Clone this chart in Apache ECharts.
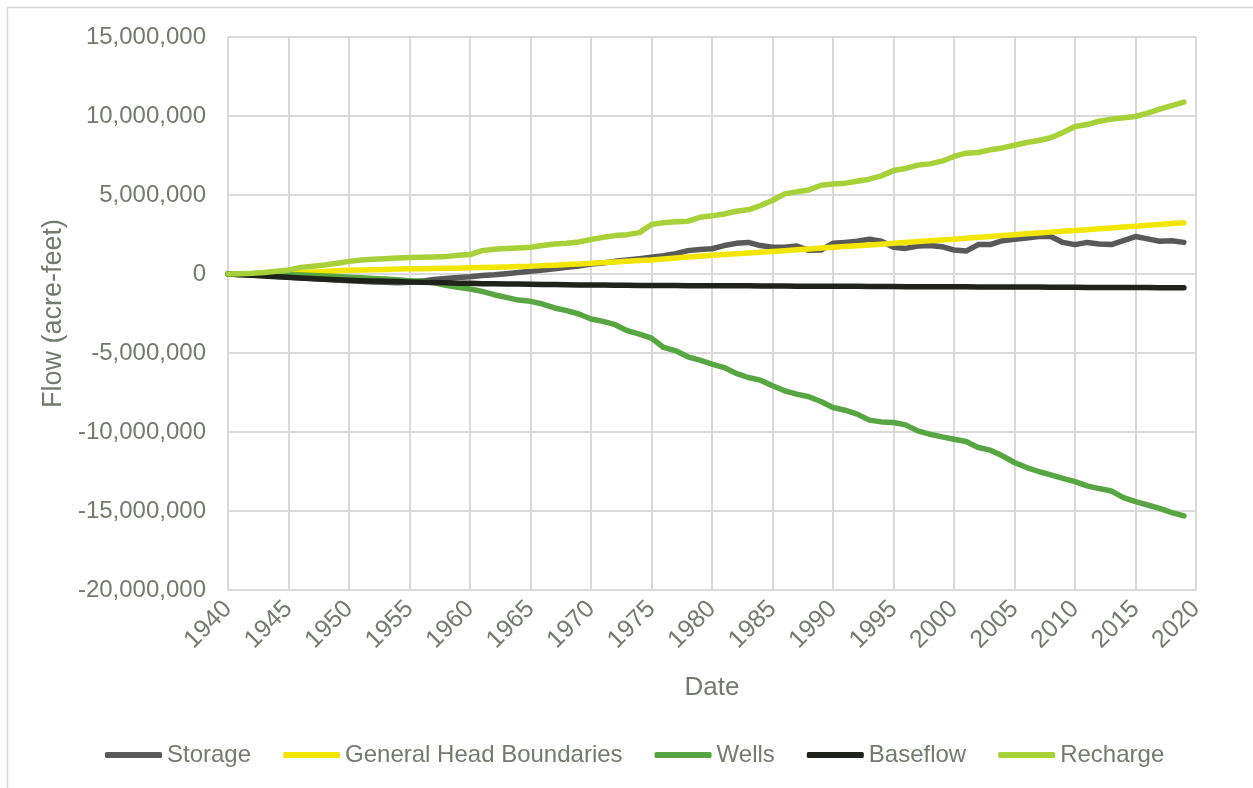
<!DOCTYPE html>
<html>
<head>
<meta charset="utf-8">
<title>Flow budget</title>
<script src="https://cdn.jsdelivr.net/npm/echarts@6/dist/echarts.min.js"></script>
<style>
  html, body { margin: 0; padding: 0; background: #fff; }
  #main { width: 1253px; height: 788px; }
</style>
</head>
<body>
<div id="main"></div>
<script>
// cumulative flow, millions of acre-feet, one value per year
var years = [
  1940, 1941, 1942, 1943, 1944, 1945, 1946, 1947, 1948, 1949,
  1950, 1951, 1952, 1953, 1954, 1955, 1956, 1957, 1958, 1959,
  1960, 1961, 1962, 1963, 1964, 1965, 1966, 1967, 1968, 1969,
  1970, 1971, 1972, 1973, 1974, 1975, 1976, 1977, 1978, 1979,
  1980, 1981, 1982, 1983, 1984, 1985, 1986, 1987, 1988, 1989,
  1990, 1991, 1992, 1993, 1994, 1995, 1996, 1997, 1998, 1999,
  2000, 2001, 2002, 2003, 2004, 2005, 2006, 2007, 2008, 2009,
  2010, 2011, 2012, 2013, 2014, 2015, 2016, 2017, 2018, 2019
];

var storage = [
  0, -0.03, -0.06, -0.1, -0.15, -0.21, -0.26, -0.3, -0.34, -0.38,
  -0.42, -0.46, -0.5, -0.53, -0.55, -0.53, -0.45, -0.35, -0.28, -0.22,
  -0.17, -0.1, -0.05, 0.02, 0.1, 0.17, 0.25, 0.33, 0.42, 0.5,
  0.63, 0.7, 0.8, 0.88, 0.97, 1.06, 1.15, 1.28, 1.48, 1.55,
  1.6, 1.8, 1.94, 2.0, 1.8, 1.69, 1.69, 1.77, 1.5, 1.52,
  1.94, 2.0, 2.07, 2.2, 2.07, 1.69, 1.62, 1.77, 1.8, 1.73,
  1.52, 1.45, 1.86, 1.86, 2.11, 2.2, 2.28, 2.37, 2.37, 2.0,
  1.86, 2.0, 1.9, 1.86, 2.11, 2.37, 2.22, 2.07, 2.11, 2.0
];

var generalHead = [
  0, 0.01, 0.02, 0.03, 0.05, 0.07, 0.1, 0.13, 0.16, 0.2,
  0.23, 0.25, 0.27, 0.29, 0.31, 0.33, 0.34, 0.35, 0.36, 0.37,
  0.39, 0.41, 0.43, 0.45, 0.47, 0.49, 0.53, 0.56, 0.6, 0.64,
  0.68, 0.72, 0.76, 0.8, 0.85, 0.89, 0.95, 1.01, 1.07, 1.13,
  1.19, 1.24, 1.28, 1.33, 1.37, 1.42, 1.47, 1.53, 1.58, 1.64,
  1.69, 1.74, 1.79, 1.84, 1.89, 1.94, 1.99, 2.05, 2.1, 2.15,
  2.2, 2.26, 2.32, 2.38, 2.43, 2.49, 2.54, 2.59, 2.65, 2.7,
  2.75, 2.8, 2.86, 2.91, 2.97, 3.02, 3.08, 3.14, 3.19, 3.25
];

var wells = [
  0, -0.01, -0.01, -0.02, -0.03, -0.04, -0.06, -0.09, -0.12, -0.16,
  -0.2, -0.24, -0.28, -0.32, -0.37, -0.42, -0.46, -0.55, -0.72, -0.84,
  -0.95, -1.1, -1.31, -1.48, -1.65, -1.73, -1.9, -2.15, -2.32, -2.53,
  -2.85, -3.0, -3.21, -3.59, -3.8, -4.06, -4.65, -4.86, -5.24, -5.45,
  -5.7, -5.92, -6.29, -6.55, -6.72, -7.07, -7.39, -7.6, -7.77, -8.07,
  -8.45, -8.62, -8.87, -9.25, -9.36, -9.4, -9.55, -9.93, -10.14, -10.31,
  -10.46, -10.6, -10.98, -11.15, -11.51, -11.93, -12.25, -12.5, -12.72, -12.93,
  -13.14, -13.41, -13.58, -13.73, -14.15, -14.41, -14.62, -14.83, -15.1, -15.31
];

var baseflow = [
  0, -0.04, -0.08, -0.12, -0.17, -0.21, -0.25, -0.29, -0.33, -0.36,
  -0.39, -0.42, -0.44, -0.46, -0.48, -0.5, -0.52, -0.54, -0.56, -0.58,
  -0.59, -0.61, -0.62, -0.63, -0.64, -0.65, -0.66, -0.67, -0.68, -0.69,
  -0.7, -0.7, -0.71, -0.71, -0.72, -0.72, -0.73, -0.73, -0.74, -0.74,
  -0.74, -0.75, -0.75, -0.75, -0.76, -0.76, -0.76, -0.77, -0.77, -0.77,
  -0.78, -0.78, -0.78, -0.79, -0.79, -0.79, -0.8, -0.8, -0.8, -0.81,
  -0.81, -0.81, -0.82, -0.82, -0.82, -0.83, -0.83, -0.83, -0.84, -0.84,
  -0.84, -0.85, -0.85, -0.85, -0.86, -0.86, -0.86, -0.87, -0.87, -0.87
];

var recharge = [
  0, 0.02, 0.05, 0.1, 0.17, 0.25, 0.42, 0.49, 0.57, 0.68,
  0.8, 0.89, 0.93, 0.97, 1.01, 1.04, 1.06, 1.08, 1.1, 1.18,
  1.23, 1.48, 1.56, 1.61, 1.65, 1.69, 1.8, 1.9, 1.94, 2.03,
  2.18, 2.32, 2.43, 2.49, 2.62, 3.13, 3.25, 3.3, 3.34, 3.59,
  3.68, 3.8, 3.97, 4.06, 4.33, 4.65, 5.07, 5.2, 5.32, 5.62,
  5.7, 5.75, 5.87, 6.0, 6.21, 6.55, 6.68, 6.89, 6.97, 7.14,
  7.44, 7.65, 7.69, 7.86, 7.98, 8.15, 8.32, 8.45, 8.62, 8.96,
  9.34, 9.46, 9.67, 9.8, 9.89, 9.97, 10.18, 10.43, 10.65, 10.88
];

var seriesNames = ['Storage', 'General Head Boundaries', 'Wells', 'Baseflow', 'Recharge'];
var seriesValues = [storage, generalHead, wells, baseflow, recharge];
var seriesColors = ['#595959', '#f2e600', '#58a643', '#1f231c', '#a8d038'];

var textColor = '#737a6e';
var fontName = 'Liberation Sans, Arial, sans-serif';

function toPairs(vals) {
  return vals.map(function (v, i) {
    return [years[i], Math.round(v * 1000000)];
  });
}

var chartDom = document.getElementById('main');
var myChart = echarts.init(chartDom);
var option;

option = {
  animation: false,
  backgroundColor: '#ffffff',
  textStyle: { fontFamily: fontName },
  graphic: [
    {
      type: 'rect',
      shape: { x: 7.5, y: 7.5, width: 1300, height: 900 },
      style: { fill: null, stroke: '#d9d9d9', lineWidth: 1.5 },
      silent: true
    }
  ],
  grid: {
    left: 228,
    right: 57,
    top: 37,
    bottom: 198
  },
  legend: {
    data: seriesNames,
    top: 743,
    left: 105,
    padding: 0,
    itemGap: 32,
    itemWidth: 57,
    itemHeight: 6,
    icon: 'roundRect',
    textStyle: { color: textColor, fontSize: 24, fontFamily: fontName }
  },
  xAxis: {
    type: 'value',
    min: 1940,
    max: 2020,
    interval: 5,
    name: 'Date',
    nameLocation: 'middle',
    nameGap: 85,
    nameTextStyle: { color: textColor, fontSize: 26, fontFamily: fontName },
    axisLine: { show: true, lineStyle: { color: '#d9d9d9', width: 2 } },
    axisTick: { show: false },
    axisLabel: {
      rotate: 45,
      margin: 15,
      color: textColor,
      fontSize: 25,
      fontFamily: fontName,
      formatter: function (v) { return String(v); }
    },
    splitLine: { show: true, lineStyle: { color: '#d9d9d9', width: 2 } }
  },
  yAxis: {
    type: 'value',
    min: -20000000,
    max: 15000000,
    interval: 5000000,
    name: 'Flow (acre-feet)',
    nameLocation: 'middle',
    nameGap: 155,
    nameTextStyle: { color: textColor, fontSize: 27, fontFamily: fontName },
    axisLine: { show: false },
    axisTick: { show: false },
    axisLabel: {
      margin: 22,
      color: textColor,
      fontSize: 24,
      fontFamily: fontName,
      formatter: function (v) { return v.toLocaleString('en-US'); }
    },
    splitLine: { show: true, lineStyle: { color: '#d9d9d9', width: 2 } }
  },
  series: seriesNames.map(function (name, k) {
    return {
      name: name,
      type: 'line',
      data: toPairs(seriesValues[k]),
      showSymbol: false,
      symbol: 'none',
      color: seriesColors[k],
      lineStyle: { color: seriesColors[k], width: 5.5, cap: 'round', join: 'round' }
    };
  })
};

option && myChart.setOption(option);
</script>
</body>
</html>
